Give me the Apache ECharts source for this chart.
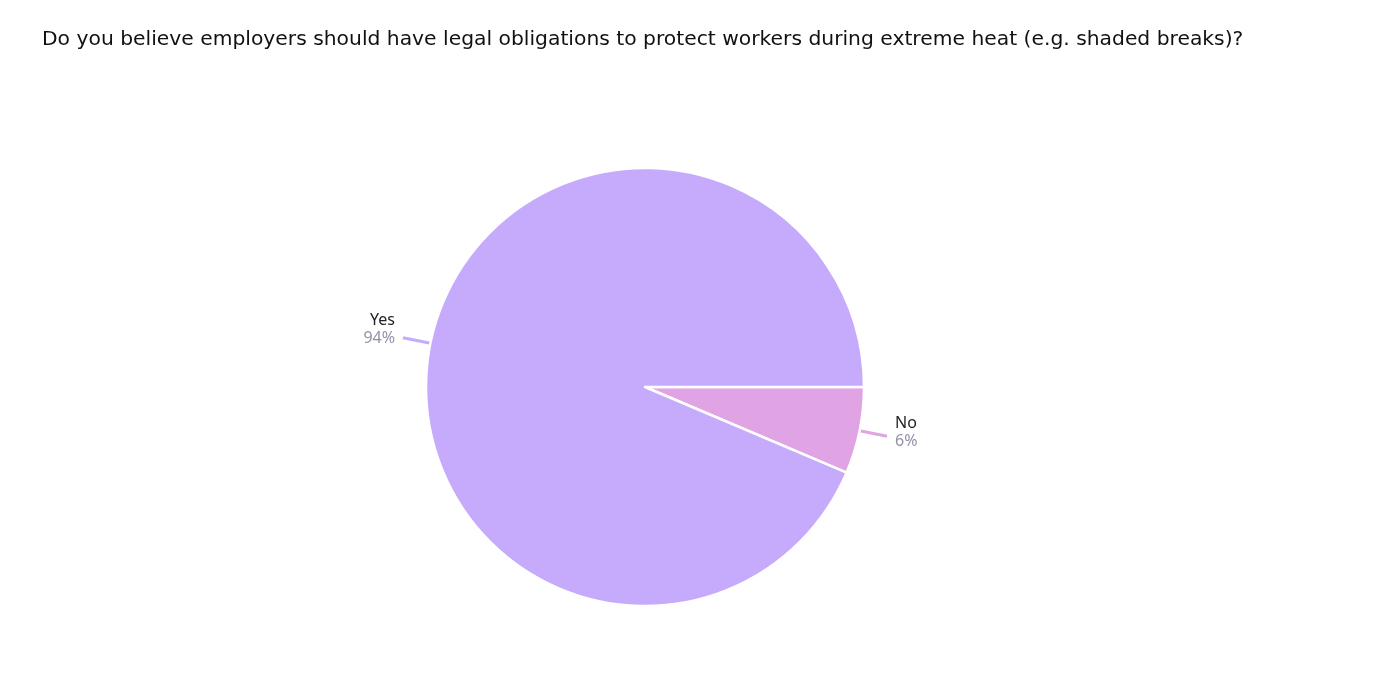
<!DOCTYPE html>
<html>
<head>
<meta charset="utf-8">
<title>Extreme heat survey</title>
<script src="https://cdn.jsdelivr.net/npm/echarts@6/dist/echarts.min.js"></script>
<style>
  html, body { margin: 0; padding: 0; background: #fff; }
  #chart { width: 1378px; height: 676px; }
</style>
</head>
<body>
<div id="chart"></div>
<script>
// survey answers (share of respondents, %)
const answers = ['No', 'Yes']
const shares = [6.4, 93.6]
const colors = ['#e0a3e3', '#c6abfc']

const chart = echarts.init(document.getElementById('chart'))

// label text sits a little above the end of its leader line
const labelLift = { No: [0, 0, 8, 0], Yes: [0, 0, 16, 0] }

chart.setOption({
  animation: false,
  title: {
    text: 'Do you believe employers should have legal obligations to protect workers during extreme heat (e.g. shaded breaks)?',
    left: 42,
    top: 30,
    padding: 0,
    textStyle: {
      fontFamily: 'DejaVu Sans',
      fontSize: 20.3,
      fontWeight: 'normal',
      color: '#111'
    }
  },
  series: [{
    type: 'pie',
    center: [645, 387],
    radius: 219,
    startAngle: 0,
    clockwise: true,
    data: answers.map((name, i) => ({
      name: name,
      value: shares[i],
      itemStyle: { color: colors[i] },
      label: { padding: labelLift[name] }
    })),
    itemStyle: { borderColor: '#fff', borderWidth: 2.5 },
    label: {
      show: true,
      formatter: p => '{n|' + p.name + '}\n{p|' + Math.round(p.percent) + '%}',
      distanceToLabelLine: 8,
      rich: {
        n: { fontFamily: 'Noto Sans', fontSize: 16, color: '#222', lineHeight: 18 },
        p: { fontFamily: 'Noto Sans', fontSize: 16, color: '#9391aa', lineHeight: 18 }
      }
    },
    labelLine: {
      show: true,
      length: 28,
      length2: 0,
      lineStyle: { width: 3 }
    },
    emphasis: { disabled: true }
  }]
})
</script>
</body>
</html>
